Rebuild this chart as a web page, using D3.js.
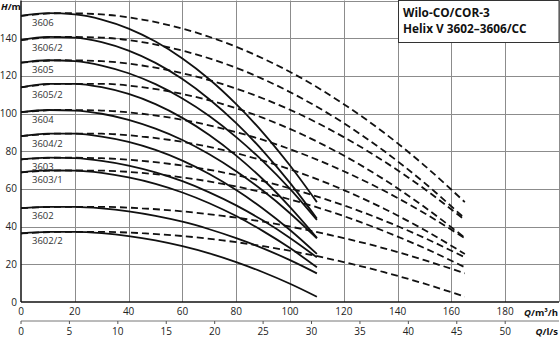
<!DOCTYPE html>
<html>
<head>
<meta charset="utf-8">
<script src="https://cdn.jsdelivr.net/npm/d3@7"></script>
<style>
  body { margin: 0; background: #fff; }
  svg { display: block; font-family: "Open Sans", sans-serif; }
</style>
</head>
<body>
<div id="chart"></div>
<script>
// Wilo-CO/COR-3 Helix V pump curves, H over Q

const pumps = ["3606", "3606/2", "3605", "3605/2", "3604", "3604/2", "3603", "3603/1", "3602", "3602/2"]

// flow points (m³/h) for the solid and dashed curves
const qSolid = [0, 10, 20, 30, 40, 50, 60, 70, 80, 90, 100, 110]
const qDashed = [0, 15, 30, 45, 60, 75, 90, 105, 120, 135, 150, 165]

// head values (m), one row per pump
const heads = [
    [151.8, 153.3, 152.6, 149.9, 145.1, 138.2, 129.2, 118.2, 105.0, 89.8, 72.4, 53.0],
    [139.0, 140.7, 140.3, 137.9, 133.4, 126.9, 118.3, 107.6, 94.9, 80.1, 63.2, 44.3],
    [127.0, 128.3, 127.8, 125.5, 121.4, 115.6, 108.0, 98.7, 87.5, 74.6, 60.0, 43.5],
    [113.9, 115.8, 115.8, 114.0, 110.4, 105.0, 97.7, 88.6, 77.7, 65.0, 50.4, 34.1],
    [100.8, 101.9, 101.6, 99.9, 96.7, 92.0, 86.0, 78.4, 69.4, 59.0, 47.1, 33.8],
    [88.0, 89.4, 89.3, 87.8, 85.0, 80.7, 75.0, 67.9, 59.4, 49.5, 38.2, 25.5],
    [75.7, 76.6, 76.3, 74.9, 72.4, 68.8, 64.1, 58.2, 51.3, 43.2, 34.0, 23.7],
    [68.8, 69.8, 69.7, 68.5, 66.1, 62.7, 58.1, 52.4, 45.6, 37.6, 28.6, 18.4],
    [49.8, 50.5, 50.5, 49.7, 48.1, 45.7, 42.6, 38.6, 33.9, 28.5, 22.2, 15.2],
    [36.4, 37.2, 37.2, 36.5, 35.0, 32.7, 29.6, 25.8, 21.2, 15.8, 9.7, 2.8]
]

const xTicks = [0, 20, 40, 60, 80, 100, 120, 140, 160, 180]
const yTicks = [0, 20, 40, 60, 80, 100, 120, 140]
const lsTicks = [0, 5, 10, 15, 20, 25, 30, 35, 40, 45, 50]
const titleLines = ["Wilo-CO/COR-3", "Helix V 3602–3606/CC"]

const width = 560
const height = 338

const svg = d3.select("#chart")
    .append("svg")
    .attr("width", width)
    .attr("height", height)

const x = d3.scaleLinear().domain([0, 200]).range([21, 559])
const y = d3.scaleLinear().domain([0, 160]).range([302, 0.5])
// second axis in l/s, same pixels (1 l/s = 3.6 m³/h)
const xLs = d3.scaleLinear().domain([0, 200 / 3.6]).range([21, 559])

// grid
const grid = svg.append("g").attr("stroke", "#8c8c8c").attr("stroke-width", 1)
grid.selectAll("line.v")
    .data(d3.range(20, 201, 20))
    .join("line")
    .attr("class", "v")
    .attr("x1", d => Math.round(x(d)) + 0.5).attr("x2", d => Math.round(x(d)) + 0.5)
    .attr("y1", y(160)).attr("y2", y(0))
grid.selectAll("line.h")
    .data(d3.range(20, 161, 20))
    .join("line")
    .attr("class", "h")
    .attr("x1", x(0)).attr("x2", x(200))
    .attr("y1", d => Math.round(y(d)) + 0.5).attr("y2", d => Math.round(y(d)) + 0.5)

// axes lines
svg.append("line")
    .attr("x1", x(0)).attr("x2", x(200))
    .attr("y1", y(0)).attr("y2", y(0))
    .attr("stroke", "#111").attr("stroke-width", 1.5)
svg.append("line")
    .attr("x1", x(0)).attr("x2", x(0))
    .attr("y1", y(0)).attr("y2", y(160))
    .attr("stroke", "#111").attr("stroke-width", 1.5)

// tick labels
svg.append("g")
    .selectAll("text")
    .data(yTicks)
    .join("text")
    .attr("x", 17)
    .attr("y", d => y(d) + 3.5)
    .attr("text-anchor", "end")
    .attr("font-size", 10)
    .attr("fill", "#222")
    .text(d => d)

svg.append("g")
    .selectAll("text")
    .data(xTicks)
    .join("text")
    .attr("x", d => x(d))
    .attr("y", 315)
    .attr("text-anchor", "middle")
    .attr("font-size", 10)
    .attr("fill", "#222")
    .text(d => d)

// l/s axis
const lsAxis = svg.append("g").attr("transform", "translate(0,321)")
lsAxis.append("line")
    .attr("x1", x(0)).attr("x2", x(200))
    .attr("stroke", "#777").attr("stroke-width", 1)
lsAxis.selectAll("line.tick")
    .data(lsTicks)
    .join("line")
    .attr("class", "tick")
    .attr("x1", d => xLs(d)).attr("x2", d => xLs(d))
    .attr("y1", 0).attr("y2", 3)
    .attr("stroke", "#555")
lsAxis.selectAll("text")
    .data(lsTicks)
    .join("text")
    .attr("x", d => xLs(d))
    .attr("y", 14)
    .attr("text-anchor", "middle")
    .attr("font-size", 10)
    .attr("fill", "#222")
    .text(d => d)

// axis titles
const hTitle = svg.append("text").attr("x", 1).attr("y", 10).attr("font-size", 9.5).attr("font-weight", "bold").attr("fill", "#111")
hTitle.append("tspan").attr("font-style", "italic").text("H")
hTitle.append("tspan").text("/m")

const qTitle = svg.append("text").attr("x", 558).attr("y", 316).attr("text-anchor", "end").attr("font-size", 9.5).attr("font-weight", "bold").attr("fill", "#111")
qTitle.append("tspan").attr("font-style", "italic").text("Q")
qTitle.append("tspan").text("/m³/h")

const qlsTitle = svg.append("text").attr("x", 558).attr("y", 335).attr("text-anchor", "end").attr("font-size", 9.5).attr("font-weight", "bold").attr("fill", "#111")
qlsTitle.append("tspan").attr("font-style", "italic").text("Q")
qlsTitle.append("tspan").text("/l/s")

// curves
const line = d3.line()
    .x(d => x(d[0]))
    .y(d => y(d[1]))
    .curve(d3.curveMonotoneX)

const curves = svg.append("g").attr("fill", "none").attr("stroke", "#111")

curves.selectAll("path.dashed")
    .data(heads)
    .join("path")
    .attr("class", "dashed")
    .attr("d", h => line(qDashed.map((q, i) => [q, h[i]])))
    .attr("stroke-width", 1.8)
    .attr("stroke-dasharray", "7,4")

curves.selectAll("path.solid")
    .data(heads)
    .join("path")
    .attr("class", "solid")
    .attr("d", h => line(qSolid.map((q, i) => [q, h[i]])))
    .attr("stroke-width", 1.8)

// pump labels under the start of each curve
svg.append("g")
    .selectAll("text")
    .data(pumps)
    .join("text")
    .attr("x", 32)
    .attr("y", (d, i) => y(heads[i][0]) + 10.5)
    .attr("font-size", 9.5)
    .attr("fill", "#333")
    .text(d => d)

// title box
svg.append("rect")
    .attr("x", Math.round(x(140)) + 0.5)
    .attr("y", 0.5)
    .attr("width", x(200) - Math.round(x(140)) - 0.5)
    .attr("height", 42)
    .attr("fill", "#fff")
    .attr("stroke", "#333")
    .attr("stroke-width", 1)

svg.append("g")
    .selectAll("text")
    .data(titleLines)
    .join("text")
    .attr("x", 403)
    .attr("y", (d, i) => 17 + i * 16)
    .attr("font-size", 11.8)
    .attr("font-weight", "bold")
    .attr("fill", "#111")
    .text(d => d)
</script>
</body>
</html>
